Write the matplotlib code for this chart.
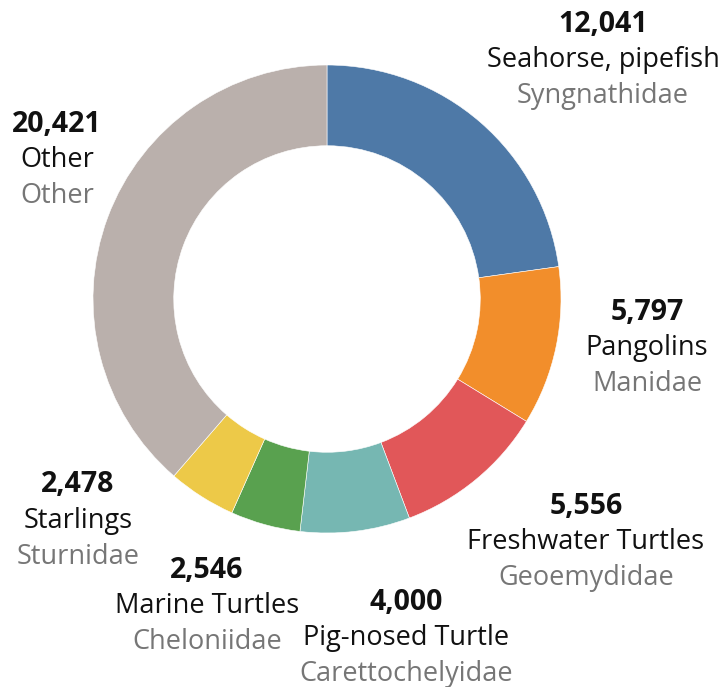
import numpy as np
import matplotlib
matplotlib.use("Agg")
from matplotlib import pyplot as plt

names = ["Seahorse, pipefish", "Pangolins", "Freshwater Turtles", "Pig-nosed Turtle",
         "Marine Turtles", "Starlings", "Other"]
families = ["Syngnathidae", "Manidae", "Geoemydidae", "Carettochelyidae",
            "Cheloniidae", "Sturnidae", "Other"]
counts = [12041, 5797, 5556, 4000, 2546, 2478, 20421]
colors = ["#4e79a7", "#f28e2b", "#e15759", "#76b7b2", "#59a14f", "#edc948", "#bab0ac"]

# label centres in pixels (x, y of middle line)
label_px = [(603, 60), (647, 348), (586, 542), (406, 638), (207, 606), (78, 521), (57, 160)]

W, H = 725, 687
CX, CY, R = 327, 299, 234

def main():
    plt.rcParams['font.family'] = ['Open Sans', 'DejaVu Sans']
    fig = plt.figure(figsize=(W/100, H/100), dpi=100)
    ax = fig.add_axes([0, 0, 1, 1])
    ax.pie(counts, colors=colors, startangle=90, counterclock=False, radius=1.0,
           wedgeprops=dict(width=0.345, edgecolor="white", linewidth=0.4))
    ax.set_xlim(-CX/R, (W-CX)/R)
    ax.set_ylim(-(H-CY)/R, CY/R)
    ax.set_aspect("equal")
    ax.axis("off")

    dy = 36/R
    for n, f, c, (px, py) in zip(names, families, counts, label_px):
        x = (px-CX)/R
        y = (CY-py)/R
        ax.text(x, y+dy, f"{c:,}", ha="center", va="center", fontsize=20.5,
                fontweight="bold", color="#111111")
        ax.text(x, y, n, ha="center", va="center", fontsize=19.5, color="#111111")
        ax.text(x, y-dy, f, ha="center", va="center", fontsize=19.5, color="#767676")

    fig.savefig("out.png", dpi=100)

if __name__ == "__main__":
    main()
